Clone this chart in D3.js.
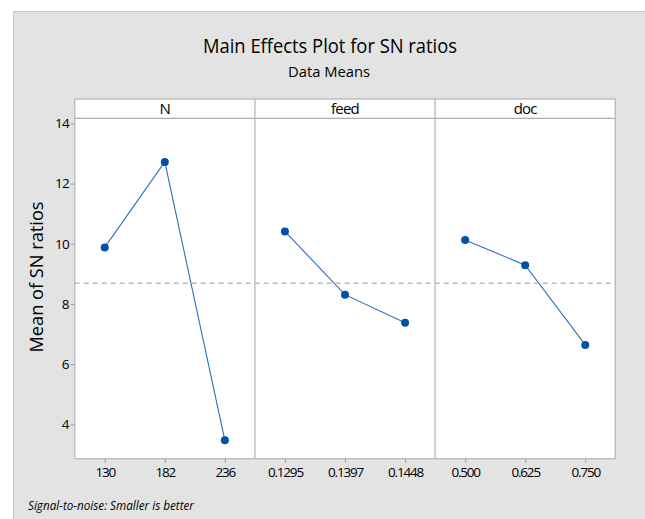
<!DOCTYPE html>
<html><head><meta charset="utf-8">
<script src="https://cdn.jsdelivr.net/npm/d3@7"></script>
<style>
html,body{margin:0;padding:0;background:#fff;}
svg{display:block;}
text{font-family:"Open Sans","Noto Sans",sans-serif;fill:#000;}
</style></head>
<body>
<svg id="chart" width="645" height="519"></svg>
<script>
// ---- data ----
const factors = ["N", "feed", "doc"];
const levelsN = ["130", "182", "236"];
const levelsFeed = ["0.1295", "0.1397", "0.1448"];
const levelsDoc = ["0.500", "0.625", "0.750"];
const meansN = [9.88, 12.72, 3.47];
const meansFeed = [10.41, 8.31, 7.38];
const meansDoc = [10.13, 9.29, 6.64];
const yTicks = [4, 6, 8, 10, 12, 14];
const yDomain = [2.86, 14.17];
const titleText = "Main Effects Plot for SN ratios";
const subtitleText = "Data Means";
const yLabel = "Mean of SN ratios";
const footnote = "Signal-to-noise: Smaller is better";

const levels = [levelsN, levelsFeed, levelsDoc];
const means = [meansN, meansFeed, meansDoc];

// ---- layout ----
const svg = d3.select("#chart");
const pLeft = 74.7, pRight = 615.3, stripTop = 99, pTop = 118.3, pBottom = 458.7;
const panelW = (pRight - pLeft) / factors.length;

svg.append("rect").attr("x", 13.5).attr("y", 11.5).attr("width", 640).attr("height", 520)
  .attr("fill", "#e3e3e3").attr("stroke", "#c8c8c8").attr("stroke-width", 1);

svg.append("text").attr("x", 330).attr("y", 53).attr("text-anchor", "middle").attr("font-weight", 500)
  .attr("font-size", 20.5).attr("textLength", 254).attr("lengthAdjust", "spacingAndGlyphs").text(titleText);
svg.append("text").attr("x", 329).attr("y", 77).attr("text-anchor", "middle").attr("font-weight", 500)
  .attr("font-size", 14).attr("textLength", 82).attr("lengthAdjust", "spacingAndGlyphs").text(subtitleText);

const y = d3.scaleLinear().domain(yDomain).range([pBottom, pTop]);

// panels background
svg.append("rect").attr("x", pLeft).attr("y", stripTop).attr("width", pRight - pLeft).attr("height", pBottom - stripTop)
  .attr("fill", "#fff");

// y axis
const yAxis = svg.append("g").attr("transform", `translate(${pLeft},0)`)
  .call(d3.axisLeft(y).tickValues(yTicks).tickSize(4).tickPadding(2).tickFormat(d3.format("d")));
yAxis.select(".domain").remove();
yAxis.selectAll("line").attr("stroke", "#999");
yAxis.selectAll("text").attr("font-size", 13.5).attr("fill", "#000").attr("letter-spacing", -0.9)
  .style("font-family", "'Open Sans','Noto Sans',sans-serif");

// y label
svg.append("text").attr("transform", "translate(43,277) rotate(-90)").attr("text-anchor", "middle").attr("font-weight", 500)
  .attr("font-size", 17.5).attr("textLength", 151).attr("lengthAdjust", "spacingAndGlyphs").text(yLabel);

const grand = d3.mean(means.flat());

factors.forEach((f, i) => {
  const x0 = pLeft + i * panelW;
  const x = d3.scalePoint().domain(levels[i]).range([x0, x0 + panelW]).padding(0.5);

  // strip label
  svg.append("text").attr("x", x0 + panelW / 2).attr("y", 114).attr("text-anchor", "middle").attr("font-weight", 500)
    .attr("font-size", 15).attr("letter-spacing", -0.8).text(f);

  // x axis
  const xa = svg.append("g").attr("transform", `translate(0,${pBottom})`)
    .call(d3.axisBottom(x).tickSize(4).tickPadding(5));
  xa.select(".domain").remove();
  xa.selectAll("line").attr("stroke", "#999");
  xa.selectAll("text").attr("font-size", 13.5).attr("fill", "#000").attr("letter-spacing", -1.2)
    .style("font-family", "'Open Sans','Noto Sans',sans-serif");

  const pts = levels[i].map((l, j) => [x(l), y(means[i][j])]);
  svg.append("path").attr("d", d3.line()(pts)).attr("fill", "none")
    .attr("stroke", "#2e6fbf").attr("stroke-width", 1.1);
  svg.selectAll(null).data(pts).enter().append("circle")
    .attr("cx", d => d[0]).attr("cy", d => d[1]).attr("r", 4)
    .attr("fill", "#0052a5");
});

// reference line
svg.append("line").attr("x1", pLeft).attr("x2", pRight).attr("y1", y(grand)).attr("y2", y(grand))
  .attr("stroke", "#9a9a9a").attr("stroke-width", 1).attr("stroke-dasharray", "5,4");

// panel frames
svg.append("line").attr("x1", pLeft).attr("x2", pRight).attr("y1", pTop).attr("y2", pTop)
  .attr("stroke", "#9a9a9a").attr("stroke-width", 1);
for (let i = 1; i < factors.length; i++) {
  svg.append("line").attr("x1", pLeft + i * panelW).attr("x2", pLeft + i * panelW)
    .attr("y1", stripTop).attr("y2", pBottom).attr("stroke", "#b8b8b8").attr("stroke-width", 1.3);
}
svg.append("rect").attr("x", pLeft).attr("y", stripTop).attr("width", pRight - pLeft).attr("height", pBottom - stripTop)
  .attr("fill", "none").attr("stroke", "#b8b8b8").attr("stroke-width", 1.3);

// footnote
svg.append("text").attr("x", 28).attr("y", 510).attr("font-size", 12.5).attr("font-style", "italic")
  .attr("textLength", 166).attr("lengthAdjust", "spacingAndGlyphs").text(footnote);
</script>
</body></html>
